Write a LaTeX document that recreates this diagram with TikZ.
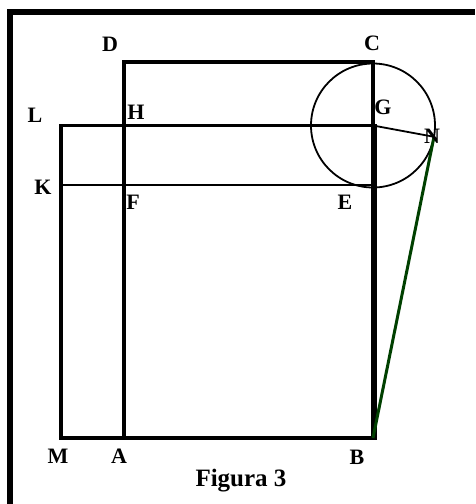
\documentclass[tikz,border=0pt]{standalone}
\usepackage{fontspec}
\setmainfont{Liberation Serif}
\begin{document}
\begin{tikzpicture}[x=1pt,y=-1pt,
  lbl/.style={font=\fontsize{22}{22}\selectfont\bfseries, inner sep=0pt},
  heavy/.style={line width=3.5pt},
  thin/.style={line width=1.3pt},
  mid/.style={line width=1.8pt}]
\definecolor{dgreen}{RGB}{0,64,0}
\useasboundingbox (0,0) rectangle (475,504);
% frame (left and top only visible)
\coordinate (f1) at (9.5,504);
\coordinate (f2) at (9.5,12);
\coordinate (f3) at (475,12);
\draw[line width=6pt] (f1) -- (f2) -- (f3);
% points
\coordinate (A) at (124,438);
\coordinate (B) at (373,438);
\coordinate (C) at (373,62);
\coordinate (D) at (124,62);
\coordinate (M) at (61,438);
\coordinate (L) at (61,125.5);
\coordinate (H) at (124,125.5);
\coordinate (G) at (373,125.5);
\coordinate (K) at (61,185);
\coordinate (E) at (373,185);
\coordinate (F) at (124,185);
\coordinate (Gb) at (375,125.5);
\coordinate (Bb) at (375,438);
\coordinate (N) at (434,136.8);
% shapes
\draw[heavy] (A) -- (B) -- (C) -- (D) -- cycle;
\draw[heavy] (M) -- (L) -- (Gb) -- (Bb) -- cycle;
\draw[thin] (K) -- (E);
\draw[mid] (G) circle[radius=62];
\draw[mid] (G) -- (N);
\draw[line width=3pt, dgreen] (N) -- (B);
% labels
\node[lbl] (lD) at (110,44) {D};
\node[lbl] (lC) at (372,43) {C};
\node[lbl] (lL) at (35,115) {L};
\node[lbl] (lH) at (136,112) {H};
\node[lbl] (lG) at (383,107) {G};
\node[lbl] (lN) at (432,136) {N};
\node[lbl] (lK) at (43,187) {K};
\node[lbl] (lF) at (133,202) {F};
\node[lbl] (lE) at (345,202) {E};
\node[lbl] (lM) at (58,456) {M};
\node[lbl] (lA) at (119,456) {A};
\node[lbl] (lB) at (357,457) {B};
\node[font=\fontsize{25}{25}\selectfont\bfseries, inner sep=0pt] (cap) at (241,481) {Figura 3};
\end{tikzpicture}
\end{document}
